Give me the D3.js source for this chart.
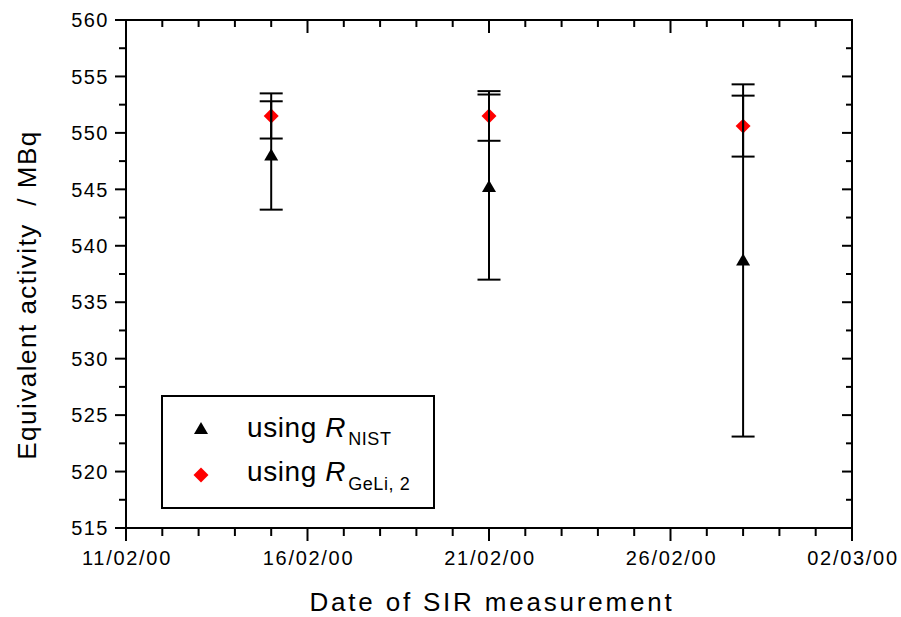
<!DOCTYPE html>
<html><head><meta charset="utf-8">
<script src="https://cdn.jsdelivr.net/npm/d3@7"></script>
<style>body{margin:0;background:#fff}svg{display:block}text{font-family:"Liberation Sans",Arial,sans-serif;fill:#000}</style>
</head><body>
<svg id="c" width="901" height="617"></svg>
<script>
const dates = ["2000-02-15","2000-02-21","2000-02-28"];
const nistValues = [548.0, 545.2, 538.7];
const nistErrors = [4.8, 8.2, 15.6];
const geliValues = [551.5, 551.5, 550.6];
const geliErrors = [2.0, 2.2, 2.7];
const xTickLabels = ["11/02/00","16/02/00","21/02/00","26/02/00","02/03/00"];
const yTickValues = [515,520,525,530,535,540,545,550,555,560];

const svg = d3.select("#c");
const L=126, R=852, T=20, B=528;
const parse = d3.utcParse("%Y-%m-%d");
const parseTick = d3.utcParse("%d/%m/%y");
const x = d3.scaleUtc().domain([parseTick("11/02/00"), parseTick("02/03/00")]).range([L,R]);
const y = d3.scaleLinear().domain([515,560]).range([B,T]);

const majorX = xTickLabels.map(s=>parseTick(s));
const minorX = d3.utcDay.range(majorX[0], d3.utcDay.offset(majorX[4],1)).filter(d=>!majorX.some(m=>+m===+d));
const minorY = d3.range(517.5, 560, 5);

const g = svg.append("g").attr("stroke","#000").attr("stroke-width",2).attr("fill","none");
g.append("rect").attr("x",L).attr("y",T).attr("width",R-L).attr("height",B-T);
majorX.forEach(d=>g.append("line").attr("x1",x(d)).attr("x2",x(d)).attr("y1",B).attr("y2",B+13));
minorX.forEach(d=>g.append("line").attr("x1",x(d)).attr("x2",x(d)).attr("y1",B).attr("y2",B+8));
majorX.forEach(d=>g.append("line").attr("x1",x(d)).attr("x2",x(d)).attr("y1",T).attr("y2",T+13));
minorX.forEach(d=>g.append("line").attr("x1",x(d)).attr("x2",x(d)).attr("y1",T).attr("y2",T+7));
yTickValues.forEach(v=>g.append("line").attr("x1",L-11).attr("x2",L).attr("y1",y(v)).attr("y2",y(v)));
minorY.forEach(v=>g.append("line").attr("x1",L-7).attr("x2",L).attr("y1",y(v)).attr("y2",y(v)));
yTickValues.forEach(v=>g.append("line").attr("x1",R-10).attr("x2",R).attr("y1",y(v)).attr("y2",y(v)));
minorY.forEach(v=>g.append("line").attr("x1",R-6).attr("x2",R).attr("y1",y(v)).attr("y2",y(v)));

xTickLabels.forEach((s,i)=>svg.append("text").attr("x",x(majorX[i])+1).attr("y",565)
  .attr("text-anchor","middle").attr("font-size",20).attr("letter-spacing","1.7px").text(s));
yTickValues.forEach(v=>svg.append("text").attr("x",109).attr("y",y(v)).attr("dy","0.36em")
  .attr("text-anchor","end").attr("font-size",20).attr("letter-spacing","1.5px").text(v));

svg.append("text").attr("x",(L+R)/2+3).attr("y",611).attr("text-anchor","middle")
  .attr("font-size",26).attr("letter-spacing","2.8px").text("Date of SIR measurement");
svg.append("text").attr("transform","translate(36,295) rotate(-90)").attr("text-anchor","middle")
  .attr("font-size",26).attr("letter-spacing","1.5px").text("Equivalent activity\u00a0 / MBq");

const pts = dates.map((d,i)=>({d:parse(d), n:nistValues[i], ne:nistErrors[i], g:geliValues[i], ge:geliErrors[i]}));
const cap = 11.5;
pts.forEach(p=>{
  svg.append("path").attr("d", d3.symbol().type(d3.symbolSquare).size(112)())
    .attr("transform",`translate(${x(p.d)},${y(p.g)}) rotate(45)`).attr("fill","#ff0000");
});
const eb = svg.append("g").attr("stroke","#000").attr("stroke-width",2);
pts.forEach(p=>{
  const cx = x(p.d);
  [[p.n,p.ne],[p.g,p.ge]].forEach(([v,e])=>{
    eb.append("line").attr("x1",cx).attr("x2",cx).attr("y1",y(v-e)).attr("y2",y(v+e));
    eb.append("line").attr("x1",cx-cap).attr("x2",cx+cap).attr("y1",y(v-e)).attr("y2",y(v-e));
    eb.append("line").attr("x1",cx-cap).attr("x2",cx+cap).attr("y1",y(v+e)).attr("y2",y(v+e));
  });
});
const tri = "M0,-7L7,5L-7,5Z";
pts.forEach(p=>{
  svg.append("path").attr("d",tri).attr("transform",`translate(${x(p.d)},${y(p.n)})`).attr("fill","#000");
});

svg.append("rect").attr("x",162).attr("y",396).attr("width",272).attr("height",112)
  .attr("fill","#fff").attr("stroke","#000").attr("stroke-width",2);
svg.append("path").attr("d",tri).attr("transform","translate(201,429)").attr("fill","#000");
svg.append("path").attr("d", d3.symbol().type(d3.symbolSquare).size(112)())
  .attr("transform","translate(201,475) rotate(45)").attr("fill","#ff0000");
const lt1 = svg.append("text").attr("x",247).attr("y",437).attr("font-size",28).attr("letter-spacing","0.6px");
lt1.append("tspan").text("using ");
lt1.append("tspan").attr("font-style","italic").text("R");
lt1.append("tspan").attr("font-size",18).attr("dy",8).attr("dx",2).text("NIST");
const lt2 = svg.append("text").attr("x",247).attr("y",481).attr("font-size",28).attr("letter-spacing","0.6px");
lt2.append("tspan").text("using ");
lt2.append("tspan").attr("font-style","italic").text("R");
lt2.append("tspan").attr("font-size",18).attr("dy",9).attr("dx",2).text("GeLi, 2");
</script>
</body></html>
